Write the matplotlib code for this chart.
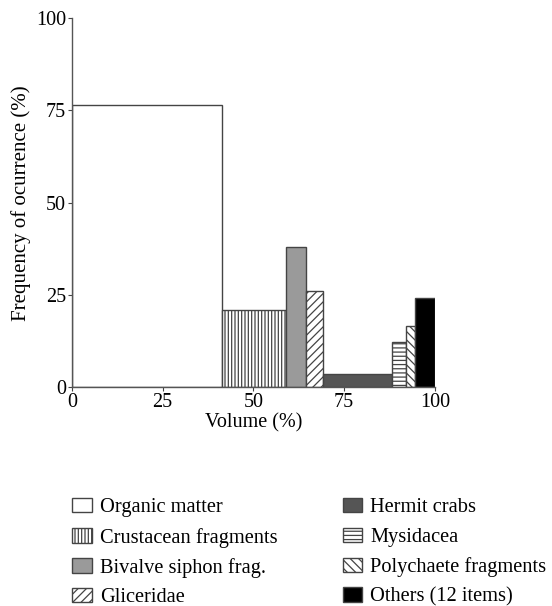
import matplotlib.pyplot as plt
import numpy as np

# diet items: volume (%) as bar width, frequency of occurrence (%) as height
items = ['Organic matter', 'Crustacean fragments', 'Bivalve siphon frag.', 'Gliceridae',
         'Hermit crabs', 'Mysidacea', 'Polychaete fragments', 'Others (12 items)']
volume = [41.3, 17.7, 5.5, 4.8, 19.0, 3.6, 2.6, 5.5]
frequency = [76.5, 21.0, 38.0, 26.0, 3.5, 12.3, 16.6, 24.2]

fills = ['white', 'white', '#9a9a9a', 'white', '#555555', 'white', 'white', 'black']
hatches = [None, '|||||', None, '////', None, '----', '\\\\\\\\', None]

plt.rcParams['font.family'] = ['Liberation Serif', 'DejaVu Serif']
plt.rcParams['hatch.linewidth'] = 0.9
plt.rcParams['hatch.color'] = '#222222'

fig = plt.figure(figsize=(5.52, 6.06), dpi=100)
ax = fig.add_axes([0.130, 0.361, 0.658, 0.609])

lefts = np.concatenate([[0], np.cumsum(volume)[:-1]])
bars = []
for i in range(len(items)):
    b = ax.bar(lefts[i], frequency[i], width=volume[i], align='edge',
               color=fills[i], hatch=hatches[i], edgecolor='#444444',
               linewidth=1.0, label=items[i])
    bars.append(b)

ax.set_xlim(0, 100)
ax.set_ylim(0, 100)
ax.set_xticks([0, 25, 50, 75, 100])
ax.set_yticks([0, 25, 50, 75, 100])
ax.tick_params(direction='out', length=3, width=0.8, labelsize=14.5, pad=1,
               colors='#444444', labelcolor='black')
for s in ['top', 'right']:
    ax.spines[s].set_visible(False)
for s in ['left', 'bottom']:
    ax.spines[s].set_color('#555555')
    ax.spines[s].set_linewidth(1.0)

ax.set_xlabel('Volume (%)', fontsize=14.5, labelpad=1)
ax.set_ylabel('Frequency of ocurrence (%)', fontsize=15, labelpad=4)

fig.legend(handles=bars, loc='upper left', bbox_to_anchor=(0.131, 0.178), ncol=2,
           frameon=False, fontsize=14.7, handlelength=0.95, handleheight=0.7,
           handletextpad=0.4, columnspacing=3.2, labelspacing=0.5, borderpad=0,
           borderaxespad=0)

fig.savefig('out.png', dpi=100)
